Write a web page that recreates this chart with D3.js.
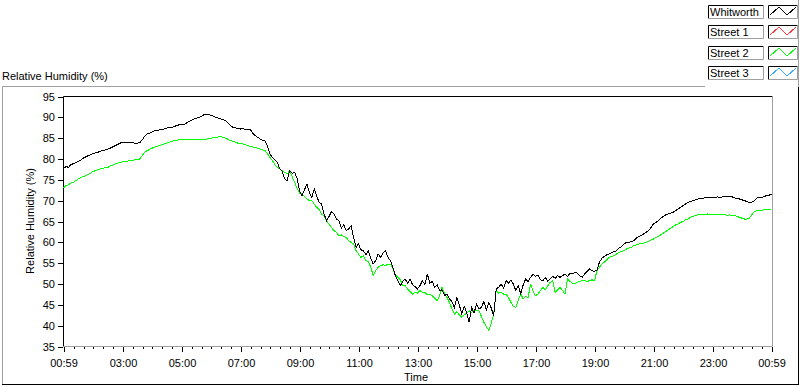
<!DOCTYPE html>
<html>
<head>
<meta charset="utf-8">
<script src="https://cdn.jsdelivr.net/npm/d3@7"></script>
<style>
  html, body { margin: 0; padding: 0; background: #ffffff; }
  svg { display: block; font-family: "Liberation Sans", Arial, sans-serif; }
</style>
</head>
<body>
<svg id="chart" width="800" height="386"></svg>
<script>
// ---------------- data ----------------
const seriesNames = ["Whitworth", "Street 1", "Street 2", "Street 3"];
const seriesColors = ["#000000", "#ff3333", "#00ff00", "#33aaff"];

// samples every 5 minutes, starting 00:59, 24 hours
const startMinute = 59;
const stepMinutes = 5;

const whitworth = [
  77.7, 78.2, 78.0, 78.6, 78.9, 79.1, 79.4, 79.7, 80.2, 80.5, 80.8, 81.0,
  81.3, 81.5, 81.6, 81.9, 82.0, 82.2, 82.4, 82.6, 82.9, 83.2, 83.5, 83.8,
  84.0, 84.0, 83.9, 84.1, 84.0, 83.8, 83.8, 83.9, 84.6, 85.4, 86.0, 86.2,
  86.5, 86.8, 86.8, 87.0, 87.1, 87.2, 87.4, 87.6, 87.5, 87.8, 88.0, 88.2,
  88.3, 88.3, 88.6, 89.0, 89.3, 89.6, 89.8, 90.0, 90.2, 90.6, 90.8, 90.7,
  90.4, 90.3, 90.0, 89.8, 89.6, 89.4, 89.2, 88.6, 88.0, 87.6, 87.5, 87.3,
  87.2, 87.3, 87.0, 87.2, 87.1, 86.2, 85.6, 85.2, 84.8, 84.5, 84.3, 83.0,
  81.2, 80.4, 79.8, 79.2, 77.6, 77.0, 75.2, 74.8, 77.2, 76.6, 76.8, 75.4,
  72.4, 71.2, 72.6, 74.0, 72.0, 70.8, 72.8, 71.0, 69.6, 69.2, 66.8, 65.2,
  66.2, 67.4, 66.8, 65.6, 65.2, 63.4, 64.2, 62.8, 63.2, 64.0, 61.2, 58.8,
  59.6, 58.2, 58.0, 57.0, 58.0, 56.2, 54.8, 55.6, 57.2, 56.4, 57.4, 58.0,
  56.4, 55.6, 54.0, 52.0, 50.8, 49.6, 50.6, 51.2, 50.2, 51.2, 49.8, 49.4,
  48.8, 49.6, 50.8, 49.8, 52.4, 50.2, 50.6, 49.2, 49.8, 48.4, 48.6, 47.2,
  47.6, 46.4, 45.8, 44.4, 46.8, 45.0, 42.8, 44.6, 43.2, 40.8, 44.4, 43.0,
  45.2, 44.0, 44.4, 45.8, 43.8, 45.6, 44.2, 42.4, 48.8, 49.2, 50.0, 49.0,
  50.8, 50.2, 51.0, 50.0, 48.4, 49.6, 47.6, 49.8, 51.2, 50.6, 51.6, 52.4,
  51.8, 52.2, 51.0, 50.8, 51.6, 50.6, 51.2, 51.8, 51.4, 52.0, 51.6, 52.0,
  52.4, 51.8, 52.6, 52.4, 52.8, 52.6, 52.0, 51.6, 52.4, 53.0, 53.6, 53.2,
  53.0, 53.4, 55.2, 56.2, 56.6, 57.0, 57.2, 57.6, 57.8, 58.0, 58.6, 59.0,
  59.6, 60.0, 60.0, 60.2, 60.4, 61.0, 61.4, 61.6, 62.0, 62.4, 62.8, 63.6,
  64.4, 64.8, 65.2, 65.8, 66.2, 66.6, 66.8, 67.0, 67.2, 67.6, 68.0, 68.4,
  68.8, 69.2, 69.6, 69.8, 70.0, 70.2, 70.4, 70.5, 70.6, 70.7, 70.8, 70.8,
  70.8, 70.8, 70.9, 70.8, 70.9, 71.0, 71.0, 71.0, 70.9, 70.7, 70.5, 70.4,
  70.2, 70.0, 69.8, 69.6, 69.6, 70.0, 70.6, 70.8, 70.8, 71.0, 71.2, 71.3,
  71.6
];

const street2 = [
  73.1, 73.6, 73.8, 74.2, 74.4, 74.8, 75.2, 75.6, 75.8, 76.0, 76.3, 76.6,
  77.0, 77.2, 77.4, 77.6, 77.8, 77.9, 78.0, 78.3, 78.5, 78.8, 79.0, 79.2,
  79.3, 79.4, 79.5, 79.6, 79.6, 79.8, 79.8, 80.0, 80.8, 81.6, 82.0, 82.3,
  82.6, 82.8, 83.0, 83.2, 83.4, 83.6, 83.8, 84.0, 84.2, 84.4, 84.5, 84.6,
  84.7, 84.8, 84.8, 84.8, 84.7, 84.8, 84.6, 84.7, 84.8, 84.6, 84.7, 84.9,
  85.0, 85.1, 85.2, 85.3, 85.4, 85.2, 85.0, 84.7, 84.4, 84.2, 84.0, 83.8,
  83.7, 83.6, 83.4, 83.2, 83.0, 82.9, 82.8, 82.6, 82.4, 82.2, 82.0, 81.2,
  80.4, 79.6, 78.6, 78.0, 77.6, 77.2, 76.8, 76.4, 77.2, 75.8, 74.4, 73.0,
  71.8, 71.6, 71.0, 70.4, 70.0, 70.0, 69.2, 68.4, 67.8, 66.8, 66.4, 65.2,
  64.4, 63.6, 62.8, 62.4, 61.6, 61.8, 61.4, 61.2, 60.4, 60.0, 59.6, 58.0,
  57.2, 56.4, 56.8, 55.6, 55.4, 54.0, 52.0, 53.2, 54.0, 54.4, 54.6, 54.4,
  54.8, 54.8, 53.6, 52.2, 51.6, 51.0, 49.6, 49.6, 48.8, 48.2, 47.6, 48.0,
  47.8, 48.4, 48.0, 48.0, 47.4, 47.6, 47.2, 46.6, 46.0, 47.2, 49.2, 47.6,
  46.8, 45.6, 44.0, 42.8, 43.4, 42.6, 42.0, 42.6, 43.0, 43.6, 43.2, 43.8,
  43.6, 43.6, 42.2, 40.8, 39.8, 38.8, 40.6, 42.8, 48.4, 47.8, 48.0, 47.6,
  47.6, 46.8, 45.6, 44.6, 44.4, 46.2, 47.6, 46.4, 47.0, 46.8, 50.0, 48.2,
  47.2, 47.6, 48.4, 49.2, 48.6, 49.6, 50.4, 50.8, 48.0, 48.6, 49.2, 48.4,
  47.6, 51.2, 50.6, 50.2, 50.0, 50.4, 50.6, 50.8, 50.8, 50.6, 50.8, 51.0,
  50.8, 53.2, 54.0, 54.8, 55.2, 55.8, 56.4, 56.6, 56.8, 57.2, 57.6, 57.8,
  58.0, 58.4, 58.6, 58.8, 59.2, 59.4, 59.6, 59.8, 59.8, 60.0, 60.2, 60.6,
  60.8, 61.2, 61.4, 61.8, 62.2, 62.6, 63.0, 63.4, 63.8, 64.2, 64.4, 64.8,
  65.0, 65.4, 65.6, 66.0, 66.2, 66.4, 66.6, 66.8, 66.8, 66.7, 66.8, 66.7,
  66.7, 66.6, 66.7, 66.8, 66.7, 66.6, 66.5, 66.6, 66.4, 66.4, 66.2, 66.0,
  65.8, 65.6, 65.6, 65.8, 66.6, 67.4, 67.6, 67.6, 67.7, 67.8, 67.8, 67.9,
  68.0
];

const yTicks = [35, 40, 45, 50, 55, 60, 65, 70, 75, 80, 85, 90, 95];
// major x ticks in minutes after midnight, with their labels
const xTickMinutes = [59, 180, 300, 420, 540, 660, 780, 900, 1020, 1140, 1260, 1380, 1499];
const xTickLabels = ["00:59", "03:00", "05:00", "07:00", "09:00", "11:00", "13:00",
                     "15:00", "17:00", "19:00", "21:00", "23:00", "00:59"];
const minorStepMinutes = 20;

// ---------------- layout ----------------
const svg = d3.select("#chart");
const plot = { left: 63, top: 96, right: 772, bottom: 346 };
const FONT = 11;

const x = d3.scaleLinear().domain([59, 1499]).range([plot.left + 0.5, plot.right - 0.5]);
const y = d3.scaleLinear().domain([35, 95]).range([plot.bottom + 0.5, plot.top + 0.5]);

const minutesOf = arr => arr.map((v, i) => ({ m: startMinute + i * stepMinutes, v }));

// outer frame
svg.append("line").attr("x1", 2.5).attr("x2", 705).attr("y1", 86.5).attr("y2", 86.5).attr("stroke", "#a0a0a0");
svg.append("line").attr("x1", 2.5).attr("x2", 2.5).attr("y1", 86.5).attr("y2", 384.5).attr("stroke", "#a0a0a0");
svg.append("line").attr("x1", 2).attr("x2", 798.5).attr("y1", 384.5).attr("y2", 384.5).attr("stroke", "#000");
svg.append("line").attr("x1", 798.5).attr("x2", 798.5).attr("y1", 87).attr("y2", 385).attr("stroke", "#000");
svg.append("line").attr("x1", 798.5).attr("x2", 798.5).attr("y1", 0).attr("y2", 87).attr("stroke", "#a0a0a0");

// title
svg.append("text").attr("x", 2).attr("y", 80).attr("font-size", FONT).attr("fill", "#000")
  .text("Relative Humidity (%)");

// plot frame: top/left dark, right/bottom light
svg.append("line").attr("x1", plot.left + 0.5).attr("x2", plot.right + 0.5)
  .attr("y1", plot.top + 0.5).attr("y2", plot.top + 0.5).attr("stroke", "#000");
svg.append("line").attr("x1", plot.left + 0.5).attr("x2", plot.left + 0.5)
  .attr("y1", plot.top + 0.5).attr("y2", plot.bottom + 0.5).attr("stroke", "#000");
svg.append("line").attr("x1", plot.right + 0.5).attr("x2", plot.right + 0.5)
  .attr("y1", plot.top + 0.5).attr("y2", plot.bottom + 0.5).attr("stroke", "#a0a0a0");
svg.append("line").attr("x1", plot.left + 0.5).attr("x2", plot.right + 0.5)
  .attr("y1", plot.bottom + 0.5).attr("y2", plot.bottom + 0.5).attr("stroke", "#a0a0a0");

// y axis
const yAxis = d3.axisLeft(y).tickValues(yTicks).tickSize(5).tickPadding(3).tickFormat(d3.format("d"));
const gy = svg.append("g").attr("transform", `translate(${plot.left},0)`).call(yAxis);
gy.select(".domain").remove();
gy.selectAll("line").attr("stroke", "#000").attr("shape-rendering", "crispEdges");
gy.selectAll("text").attr("font-size", FONT).attr("font-family", "Liberation Sans, Arial, sans-serif").attr("fill", "#000");

// x axis minor
const minorTicks = d3.range(80, 1499, minorStepMinutes).filter(m => !xTickMinutes.includes(m));
const xMinor = d3.axisBottom(x).tickValues(minorTicks).tickSize(2).tickFormat("");
const gxm = svg.append("g").attr("transform", `translate(0,${plot.bottom + 1})`).call(xMinor);
gxm.select(".domain").remove();
gxm.selectAll("line").attr("stroke", "#000").attr("shape-rendering", "crispEdges");

// x axis major
const xAxis = d3.axisBottom(x).tickValues(xTickMinutes).tickSize(5).tickPadding(7)
  .tickFormat((d, i) => xTickLabels[i]);
const gx = svg.append("g").attr("transform", `translate(0,${plot.bottom + 1})`).call(xAxis);
gx.select(".domain").remove();
gx.selectAll("line").attr("stroke", "#000").attr("shape-rendering", "crispEdges");
gx.selectAll("text").attr("font-size", FONT).attr("font-family", "Liberation Sans, Arial, sans-serif").attr("fill", "#000");

// axis titles
svg.append("text").attr("x", 416).attr("y", 381).attr("text-anchor", "middle")
  .attr("font-size", FONT).attr("fill", "#000").text("Time");
svg.append("text").attr("transform", `translate(34,${(plot.top + plot.bottom) / 2}) rotate(-90)`)
  .attr("text-anchor", "middle").attr("font-size", FONT).attr("fill", "#000")
  .text("Relative Humidity (%)");

// lines
const line = d3.line().x(d => x(d.m)).y(d => y(d.v));
const plotted = [
  { data: street2, color: seriesColors[2] },
  { data: whitworth, color: seriesColors[0] }
];
plotted.forEach(s => {
  svg.append("path").datum(minutesOf(s.data))
    .attr("d", line).attr("fill", "none").attr("stroke", s.color)
    .attr("stroke-width", 1).attr("shape-rendering", "crispEdges");
});

// legend
const legendTop = 5, legendStep = 20.3;
seriesNames.forEach((name, i) => {
  const top = Math.round(legendTop + i * legendStep);
  const g = svg.append("g").attr("transform", `translate(0,${top})`);
  const box = (x0, x1, h) => {
    g.append("line").attr("x1", x0 + 0.5).attr("x2", x1 + 0.5).attr("y1", 0.5).attr("y2", 0.5).attr("stroke", "#000");
    g.append("line").attr("x1", x0 + 0.5).attr("x2", x0 + 0.5).attr("y1", 0.5).attr("y2", h + 0.5).attr("stroke", "#000");
    g.append("line").attr("x1", x1 + 0.5).attr("x2", x1 + 0.5).attr("y1", 0.5).attr("y2", h + 0.5).attr("stroke", "#a0a0a0");
    g.append("line").attr("x1", x0 + 0.5).attr("x2", x1 + 0.5).attr("y1", h + 0.5).attr("y2", h + 0.5).attr("stroke", "#a0a0a0");
  };
  box(708, 763, 13);
  box(768, 797, 13);
  g.append("text").attr("x", 710).attr("y", 11).attr("font-size", FONT).attr("fill", "#000").text(name);
  const zig = [[770, 10], [779, 2], [787, 10], [796, 2]];
  g.append("path").attr("d", d3.line()(zig)).attr("fill", "none")
    .attr("stroke", seriesColors[i]).attr("stroke-width", 1).attr("shape-rendering", "crispEdges");
});
</script>
</body>
</html>
